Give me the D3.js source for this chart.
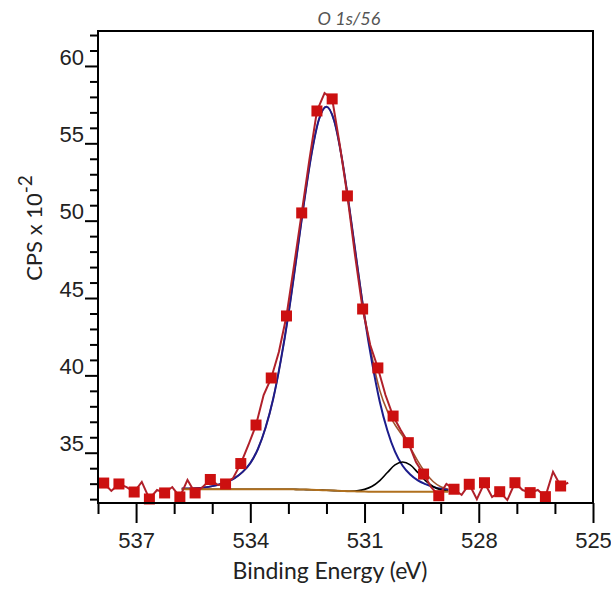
<!DOCTYPE html>
<html>
<head>
<meta charset="utf-8">
<script src="https://cdn.jsdelivr.net/npm/d3@7"></script>
<style>
  body { margin: 0; background: #fff; }
  svg { display: block; font-family: Lato, "Open Sans", sans-serif; }
</style>
</head>
<body>
<svg id="chart" width="611" height="590"></svg>
<script>
// raw spectrum (eV, CPS x 10^-2)
const rawEnergy = [538.05, 537.85, 537.65, 537.45, 537.25, 537.05, 536.85, 536.65, 536.45, 536.25,
  536.05, 535.85, 535.65, 535.45, 535.25, 535.05, 534.85, 534.65, 534.45, 534.25,
  534.05, 533.85, 533.65, 533.45, 533.25, 533.05, 532.85, 532.65, 532.45, 532.25,
  532.05, 531.85, 531.65, 531.45, 531.25, 531.05, 530.85, 530.65, 530.45, 530.25,
  530.05, 529.85, 529.65, 529.45, 529.25, 529.05, 528.85, 528.65, 528.45, 528.25,
  528.05, 527.85, 527.65, 527.45, 527.25, 527.05, 526.85, 526.65, 526.45, 526.25,
  526.05, 525.85, 525.65];
const rawCounts = [33.00, 33.04, 32.53, 32.98, 32.78, 32.46, 33.11, 32.01, 32.59, 32.40,
  32.78, 32.14, 33.24, 32.40, 32.78, 33.27, 32.91, 32.98, 33.37, 34.30,
  35.50, 36.79, 38.73, 39.83, 41.51, 43.84, 47.13, 50.50, 53.92, 57.09,
  58.25, 57.87, 54.89, 51.60, 47.78, 44.29, 41.96, 40.48, 38.73, 37.37,
  36.47, 35.65, 34.40, 33.62, 32.78, 32.22, 32.98, 32.64, 32.27, 32.96,
  32.00, 33.06, 32.14, 32.48, 31.94, 33.06, 32.59, 32.42, 32.59, 32.16,
  33.77, 32.85, 33.06];

// fit region curves
const fitEnergy = [535.8, 535.6, 535.4, 535.2, 535.0, 534.8, 534.6, 534.4, 534.2, 534.0,
  533.8, 533.6, 533.4, 533.2, 533.0, 532.8, 532.6, 532.4, 532.2, 532.0,
  531.8, 531.6, 531.4, 531.2, 531.0, 530.8, 530.6, 530.4, 530.2, 530.0,
  529.8, 529.6, 529.4, 529.2, 529.0, 528.8];
const background = [32.64, 32.64, 32.64, 32.64, 32.64, 32.64, 32.64, 32.64, 32.64, 32.64,
  32.64, 32.64, 32.64, 32.64, 32.64, 32.63, 32.62, 32.61, 32.59, 32.57,
  32.55, 32.53, 32.51, 32.50, 32.49, 32.48, 32.47, 32.47, 32.47, 32.47,
  32.47, 32.47, 32.47, 32.47, 32.47, 32.47];
const peakMain = [32.69, 32.69, 32.71, 32.76, 32.84, 32.96, 33.14, 33.38, 33.76, 34.33,
  35.24, 36.61, 38.47, 40.95, 43.92, 47.39, 50.97, 54.19, 56.52, 57.37,
  56.48, 54.11, 50.86, 47.26, 43.77, 40.79, 38.30, 36.44, 35.07, 34.16,
  33.59, 33.21, 32.97, 32.79, 32.67, 32.59];
const peakLow = [32.64, 32.64, 32.64, 32.64, 32.64, 32.64, 32.64, 32.64, 32.64, 32.64,
  32.64, 32.64, 32.64, 32.64, 32.64, 32.63, 32.62, 32.61, 32.59, 32.57,
  32.55, 32.53, 32.51, 32.54, 32.63, 32.83, 33.20, 33.72, 34.21, 34.40,
  34.21, 33.72, 33.20, 32.82, 32.60, 32.51];
const envelope = [32.69, 32.69, 32.71, 32.76, 32.84, 32.96, 33.14, 33.38, 33.76, 34.33,
  35.24, 36.61, 38.47, 40.95, 43.92, 47.39, 50.97, 54.19, 56.52, 57.37,
  56.48, 54.11, 50.86, 47.30, 43.91, 41.14, 39.03, 37.69, 36.81, 36.09,
  35.33, 34.46, 33.70, 33.14, 32.80, 32.63];

const xMajorTicks = [537, 534, 531, 528, 525];
const xMinorTicks = [538, 536, 535, 533, 532, 530, 529, 527, 526];
const yMajorTicks = [35, 40, 45, 50, 55, 60];
const yMinorTicks = [32, 33, 34, 36, 37, 38, 39, 41, 42, 43, 44, 46, 47, 48, 49,
  51, 52, 53, 54, 56, 57, 58, 59, 61, 62];

const svg = d3.select("#chart");
const plotLeft = 98, plotRight = 593, plotTop = 31, plotBottom = 503;

const x = d3.scaleLinear().domain([538, 525]).range([plotLeft, plotRight]);
const y = d3.scaleLinear().domain([31.75, 62.26]).range([plotBottom, plotTop]);

svg.append("defs").append("clipPath").attr("id", "plot")
  .append("rect").attr("x", plotLeft).attr("y", plotTop)
  .attr("width", plotRight - plotLeft).attr("height", plotBottom - plotTop);

// title
svg.append("text")
  .attr("x", 349).attr("y", 25)
  .attr("text-anchor", "middle")
  .attr("font-size", 18).attr("font-style", "italic").attr("fill", "#555")
  .text("O 1s/56");

// axes
function styleAxis(g) {
  g.select(".domain").remove();
  g.selectAll(".tick line").attr("stroke", "#000").attr("stroke-width", 2);
  g.selectAll(".tick text").attr("fill", "#222").attr("font-size", 22);
}

svg.append("g").attr("transform", `translate(0,${plotBottom})`)
  .call(d3.axisBottom(x).tickValues(xMinorTicks).tickSize(11).tickFormat(""))
  .call(styleAxis);
svg.append("g").attr("transform", `translate(0,${plotBottom})`)
  .call(d3.axisBottom(x).tickValues(xMajorTicks).tickSize(20).tickPadding(9).tickFormat(d3.format("d")))
  .call(styleAxis);

svg.append("g").attr("transform", `translate(${plotLeft},0)`)
  .call(d3.axisLeft(y).tickValues(yMinorTicks).tickSize(8).tickFormat(""))
  .call(styleAxis);
svg.append("g").attr("transform", `translate(${plotLeft},0)`)
  .call(d3.axisLeft(y).tickValues(yMajorTicks).tickSize(13).tickPadding(1).tickFormat(d3.format("d")))
  .call(styleAxis)
  .selectAll(".tick text").attr("dy", "-0.08em");

// axis titles
svg.append("text")
  .attr("x", 330).attr("y", 579)
  .attr("text-anchor", "middle")
  .attr("font-size", 23).attr("fill", "#222")
  .text("Binding Energy (eV)");

const yTitle = svg.append("text")
  .attr("transform", "translate(42,228) rotate(-90)")
  .attr("text-anchor", "middle")
  .attr("font-size", 22).attr("fill", "#222");
yTitle.append("tspan").text("CPS x 10");
yTitle.append("tspan").attr("dy", "-0.55em").attr("font-size", 19).text("-2");

// curves
const plot = svg.append("g").attr("clip-path", "url(#plot)");
const fitLine = vals => d3.line()
  .x((d, i) => x(fitEnergy[i]))
  .y(d => y(d))
  .curve(d3.curveMonotoneX)(vals);

plot.append("path").attr("d", fitLine(envelope))
  .attr("fill", "none").attr("stroke", "#a0522d").attr("stroke-width", 1.6);
plot.append("path").attr("d", fitLine(peakMain))
  .attr("fill", "none").attr("stroke", "#1c1c8c").attr("stroke-width", 2);
plot.append("path").attr("d", fitLine(peakLow))
  .attr("fill", "none").attr("stroke", "#000").attr("stroke-width", 1.6);
plot.append("path").attr("d", fitLine(background))
  .attr("fill", "none").attr("stroke", "#b0701e").attr("stroke-width", 2);

const rawLine = d3.line()
  .x((d, i) => x(rawEnergy[i]))
  .y(d => y(d));
plot.append("path").attr("d", rawLine(rawCounts))
  .attr("fill", "none").attr("stroke", "#b0202a").attr("stroke-width", 2);

// markers on every other point
const markerPts = rawCounts.map((v, i) => ({ e: rawEnergy[i], v, i })).filter(d => d.i % 2 === 1);
svg.append("g").selectAll("rect").data(markerPts).join("rect")
  .attr("x", d => x(d.e) - 5.5)
  .attr("y", d => y(d.v) - 5.5)
  .attr("width", 11).attr("height", 11)
  .attr("fill", "#cc1010");

// frame
svg.append("rect")
  .attr("x", plotLeft).attr("y", plotTop)
  .attr("width", plotRight - plotLeft).attr("height", plotBottom - plotTop)
  .attr("fill", "none").attr("stroke", "#000").attr("stroke-width", 2);
</script>
</body>
</html>
